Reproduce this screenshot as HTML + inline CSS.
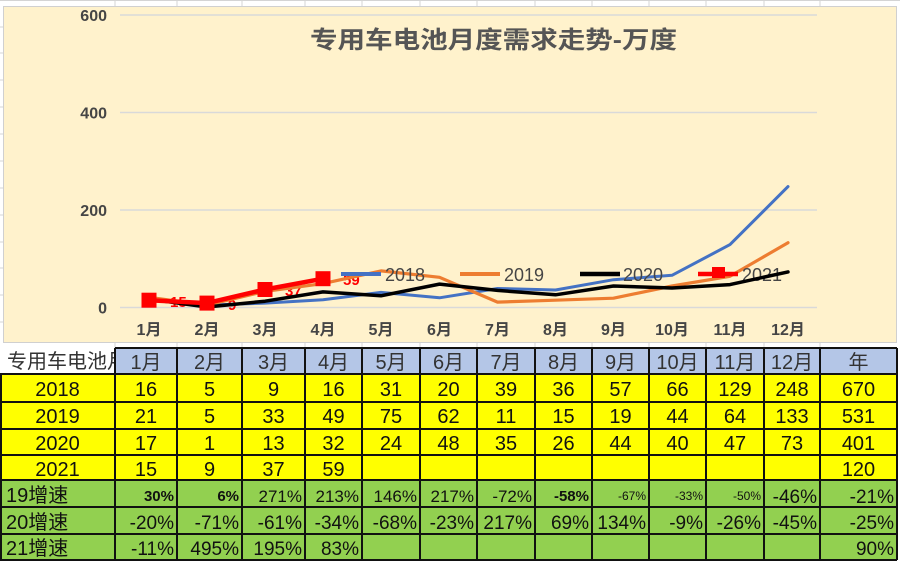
<!DOCTYPE html>
<html>
<head>
<meta charset="utf-8">
<style>
html,body{margin:0;padding:0;background:#fff;}
svg{display:block;}
.cj{font-family:"Liberation Sans","Noto Sans CJK SC",sans-serif;}
</style>
</head>
<body>
<svg width="900" height="563" viewBox="0 0 900 563" xmlns="http://www.w3.org/2000/svg" class="cj">
  <!-- spreadsheet background grid -->
  <g stroke="#d4d4d4" stroke-width="1">
    <line x1="0" y1="0.5" x2="900" y2="0.5"/>
    <line x1="115" y1="0" x2="115" y2="6"/><line x1="177" y1="0" x2="177" y2="6"/>
    <line x1="242" y1="0" x2="242" y2="6"/><line x1="305" y1="0" x2="305" y2="6"/>
    <line x1="362" y1="0" x2="362" y2="6"/><line x1="420" y1="0" x2="420" y2="6"/>
    <line x1="477" y1="0" x2="477" y2="6"/><line x1="535" y1="0" x2="535" y2="6"/>
    <line x1="592" y1="0" x2="592" y2="6"/><line x1="649" y1="0" x2="649" y2="6"/>
    <line x1="706" y1="0" x2="706" y2="6"/><line x1="764" y1="0" x2="764" y2="6"/>
    <line x1="820" y1="0" x2="820" y2="6"/>
    <line x1="115" y1="343" x2="115" y2="348"/><line x1="177" y1="343" x2="177" y2="348"/>
    <line x1="242" y1="343" x2="242" y2="348"/><line x1="305" y1="343" x2="305" y2="348"/>
    <line x1="362" y1="343" x2="362" y2="348"/><line x1="420" y1="343" x2="420" y2="348"/>
    <line x1="477" y1="343" x2="477" y2="348"/><line x1="535" y1="343" x2="535" y2="348"/>
    <line x1="592" y1="343" x2="592" y2="348"/><line x1="649" y1="343" x2="649" y2="348"/>
    <line x1="706" y1="343" x2="706" y2="348"/><line x1="764" y1="343" x2="764" y2="348"/>
    <line x1="820" y1="343" x2="820" y2="348"/>
    <line x1="0" y1="27" x2="3" y2="27"/><line x1="0" y1="53" x2="3" y2="53"/>
    <line x1="0" y1="80" x2="3" y2="80"/><line x1="0" y1="107" x2="3" y2="107"/>
    <line x1="0" y1="134" x2="3" y2="134"/><line x1="0" y1="161" x2="3" y2="161"/>
    <line x1="0" y1="188" x2="3" y2="188"/><line x1="0" y1="215" x2="3" y2="215"/>
    <line x1="0" y1="242" x2="3" y2="242"/><line x1="0" y1="268" x2="3" y2="268"/>
    <line x1="0" y1="295" x2="3" y2="295"/><line x1="0" y1="322" x2="3" y2="322"/>
  </g>

  <!-- chart area -->
  <rect x="3.5" y="6.5" width="893" height="336" fill="#FFF2CC" stroke="#d0d0d0" stroke-width="1"/>

  <!-- gridlines -->
  <g stroke="#d9d9d9" stroke-width="1.5">
    <line x1="120" y1="15" x2="817" y2="15"/>
    <line x1="120" y1="112.5" x2="817" y2="112.5"/>
    <line x1="120" y1="210" x2="817" y2="210"/>
    <line x1="120" y1="307.5" x2="817" y2="307.5"/>
  </g>

  <!-- y labels -->
  <g fill="#454545" font-size="16" font-weight="bold" text-anchor="end">
    <text x="107" y="21">600</text>
    <text x="107" y="118.5">400</text>
    <text x="107" y="216">200</text>
    <text x="107" y="313.5">0</text>
  </g>

  <!-- x labels -->
  <g fill="#454545" font-size="16" font-weight="bold" text-anchor="middle">
    <text x="149" y="335">1月</text>
    <text x="207" y="335">2月</text>
    <text x="265" y="335">3月</text>
    <text x="323" y="335">4月</text>
    <text x="381" y="335">5月</text>
    <text x="439.5" y="335">6月</text>
    <text x="497.5" y="335">7月</text>
    <text x="555.5" y="335">8月</text>
    <text x="613.5" y="335">9月</text>
    <text x="672" y="335">10月</text>
    <text x="730" y="335">11月</text>
    <text x="788" y="335">12月</text>
  </g>

  <!-- title -->
  <text x="310" y="48" font-size="24" font-weight="bold" fill="#555555" textLength="367" lengthAdjust="spacingAndGlyphs">专用车电池月度需求走势-万度</text>

  <!-- red data labels -->
  <g fill="#FF0000" font-size="15" font-weight="bold">
    <text x="170" y="307">15</text>
    <text x="228" y="310">9</text>
    <text x="285" y="296">37</text>
    <text x="343" y="285">59</text>
  </g>

  <!-- series -->
  <g fill="none" stroke-linejoin="round" stroke-linecap="round">
    <polyline stroke="#4472C4" stroke-width="3"
      points="149,299.7 207,305.1 265,303.1 323,299.7 381,292.4 439.5,297.8 497.5,288.5 555.5,290 613.5,279.7 672,275.3 730,244.6 788,186.6"/>
    <polyline stroke="#ED7D31" stroke-width="3.2"
      points="149,297.3 207,305.1 265,291.4 323,283.6 381,270.9 439.5,277.3 497.5,302.1 555.5,300.2 613.5,298.2 672,286 730,276.3 788,242.7"/>
  </g>

  <!-- legend -->
  <g font-size="18" fill="#454545">
    <line x1="341" y1="274" x2="381" y2="274" stroke="#4472C4" stroke-width="4"/>
    <text x="385" y="281">2018</text>
    <line x1="460" y1="274" x2="500" y2="274" stroke="#ED7D31" stroke-width="4"/>
    <text x="504" y="281">2019</text>
    <line x1="580" y1="274" x2="620" y2="274" stroke="#000" stroke-width="4.5"/>
    <text x="623" y="281">2020</text>
    <line x1="698" y1="274" x2="738" y2="274" stroke="#FF0000" stroke-width="4.5"/>
    <rect x="712" y="267" width="13" height="11" fill="#FF0000"/>
    <text x="742" y="281">2021</text>
  </g>

  <g fill="none" stroke-linejoin="round" stroke-linecap="round">
    <polyline stroke="#000000" stroke-width="3.5"
      points="149,299.2 207,307 265,301.2 323,291.9 381,295.8 439.5,284.1 497.5,290.4 555.5,294.8 613.5,286 672,288 730,284.6 788,271.9"/>
    <polyline stroke="#FF0000" stroke-width="4.5"
      points="149,300.2 207,303.1 265,289.5 323,278.7"/>
  </g>
  <g fill="#FF0000">
    <rect x="141.5" y="292.7" width="15" height="15"/>
    <rect x="199.5" y="295.6" width="15" height="15"/>
    <rect x="257.5" y="282" width="15" height="15"/>
    <rect x="315.5" y="271.2" width="15" height="15"/>
  </g>

  <!-- ===== TABLE ===== -->
  <rect x="0" y="348" width="115" height="26" fill="#ffffff"/>
  <rect x="115" y="348" width="782" height="26" fill="#B4C6E7"/>
  <rect x="0" y="374" width="897" height="106" fill="#FFFF00"/>
  <rect x="0" y="480" width="897" height="80" fill="#92D050"/>

  <svg x="0" y="348" width="115" height="26" overflow="hidden">
    <text x="7" y="20" font-size="20" fill="#333">专用车电池月</text>
  </svg>
  <g font-size="20" fill="#333" text-anchor="middle">
    <text x="146" y="369">1月</text>
    <text x="209.5" y="369">2月</text>
    <text x="273.5" y="369">3月</text>
    <text x="333.5" y="369">4月</text>
    <text x="391" y="369">5月</text>
    <text x="448.5" y="369">6月</text>
    <text x="506" y="369">7月</text>
    <text x="563.5" y="369">8月</text>
    <text x="620.5" y="369">9月</text>
    <text x="677.5" y="369">10月</text>
    <text x="735" y="369">11月</text>
    <text x="792" y="369">12月</text>
    <text x="858.5" y="369">年</text>
  </g>

  <g font-size="20" fill="#111" text-anchor="middle">
    <text x="57.5" y="396">2018</text>
    <text x="146" y="396">16</text><text x="209.5" y="396">5</text><text x="273.5" y="396">9</text>
    <text x="333.5" y="396">16</text><text x="391" y="396">31</text><text x="448.5" y="396">20</text>
    <text x="506" y="396">39</text><text x="563.5" y="396">36</text><text x="620.5" y="396">57</text>
    <text x="677.5" y="396">66</text><text x="735" y="396">129</text><text x="792" y="396">248</text>
    <text x="858.5" y="396">670</text>

    <text x="57.5" y="423">2019</text>
    <text x="146" y="423">21</text><text x="209.5" y="423">5</text><text x="273.5" y="423">33</text>
    <text x="333.5" y="423">49</text><text x="391" y="423">75</text><text x="448.5" y="423">62</text>
    <text x="506" y="423">11</text><text x="563.5" y="423">15</text><text x="620.5" y="423">19</text>
    <text x="677.5" y="423">44</text><text x="735" y="423">64</text><text x="792" y="423">133</text>
    <text x="858.5" y="423">531</text>

    <text x="57.5" y="450">2020</text>
    <text x="146" y="450">17</text><text x="209.5" y="450">1</text><text x="273.5" y="450">13</text>
    <text x="333.5" y="450">32</text><text x="391" y="450">24</text><text x="448.5" y="450">48</text>
    <text x="506" y="450">35</text><text x="563.5" y="450">26</text><text x="620.5" y="450">44</text>
    <text x="677.5" y="450">40</text><text x="735" y="450">47</text><text x="792" y="450">73</text>
    <text x="858.5" y="450">401</text>

    <text x="57.5" y="476">2021</text>
    <text x="146" y="476">15</text><text x="209.5" y="476">9</text><text x="273.5" y="476">37</text>
    <text x="333.5" y="476">59</text>
    <text x="858.5" y="476">120</text>
  </g>

  <g font-size="20" fill="#111">
    <text x="6" y="502">19增速</text>
    <text x="6" y="529">20增速</text>
    <text x="6" y="555">21增速</text>
  </g>
  <g fill="#111" text-anchor="end">
    <text x="174" y="501" font-size="15" font-weight="bold">30%</text>
    <text x="239" y="501" font-size="15" font-weight="bold">6%</text>
    <text x="302" y="502" font-size="17">271%</text>
    <text x="359" y="502" font-size="17">213%</text>
    <text x="417" y="502" font-size="17">146%</text>
    <text x="474" y="502" font-size="17">217%</text>
    <text x="532" y="502" font-size="17">-72%</text>
    <text x="589" y="501" font-size="15" font-weight="bold">-58%</text>
    <text x="646" y="500" font-size="12">-67%</text>
    <text x="703" y="500" font-size="12">-33%</text>
    <text x="761" y="500" font-size="12">-50%</text>
    <text x="817" y="503" font-size="19">-46%</text>
    <text x="894" y="503" font-size="19">-21%</text>

    <text x="174" y="529" font-size="19">-20%</text>
    <text x="239" y="529" font-size="19">-71%</text>
    <text x="302" y="529" font-size="19">-61%</text>
    <text x="359" y="529" font-size="19">-34%</text>
    <text x="417" y="529" font-size="19">-68%</text>
    <text x="474" y="529" font-size="19">-23%</text>
    <text x="532" y="529" font-size="19">217%</text>
    <text x="589" y="529" font-size="19">69%</text>
    <text x="646" y="529" font-size="19">134%</text>
    <text x="703" y="529" font-size="19">-9%</text>
    <text x="761" y="529" font-size="19">-26%</text>
    <text x="817" y="529" font-size="19">-45%</text>
    <text x="894" y="529" font-size="19">-25%</text>

    <text x="174" y="555" font-size="19">-11%</text>
    <text x="239" y="555" font-size="19">495%</text>
    <text x="302" y="555" font-size="19">195%</text>
    <text x="359" y="555" font-size="19">83%</text>
    <text x="894" y="555" font-size="19">90%</text>
  </g>

  <g stroke="#111" stroke-width="2">
    <line x1="115" y1="348" x2="897" y2="348"/>
    <line x1="0" y1="374" x2="897" y2="374"/>
    <line x1="0" y1="402" x2="897" y2="402"/>
    <line x1="0" y1="429" x2="897" y2="429"/>
    <line x1="0" y1="455" x2="897" y2="455"/>
    <line x1="0" y1="480" x2="897" y2="480"/>
    <line x1="0" y1="507" x2="897" y2="507"/>
    <line x1="0" y1="534" x2="897" y2="534"/>
    <line x1="0" y1="560" x2="897" y2="560"/>
    <line x1="1" y1="374" x2="1" y2="560"/>
    <line x1="115" y1="348" x2="115" y2="560"/>
    <line x1="177" y1="348" x2="177" y2="560"/>
    <line x1="242" y1="348" x2="242" y2="560"/>
    <line x1="305" y1="348" x2="305" y2="560"/>
    <line x1="362" y1="348" x2="362" y2="560"/>
    <line x1="420" y1="348" x2="420" y2="560"/>
    <line x1="477" y1="348" x2="477" y2="560"/>
    <line x1="535" y1="348" x2="535" y2="560"/>
    <line x1="592" y1="348" x2="592" y2="560"/>
    <line x1="649" y1="348" x2="649" y2="560"/>
    <line x1="706" y1="348" x2="706" y2="560"/>
    <line x1="764" y1="348" x2="764" y2="560"/>
    <line x1="820" y1="348" x2="820" y2="560"/>
    <line x1="897" y1="348" x2="897" y2="560"/>
  </g>
</svg>
</body>
</html>
